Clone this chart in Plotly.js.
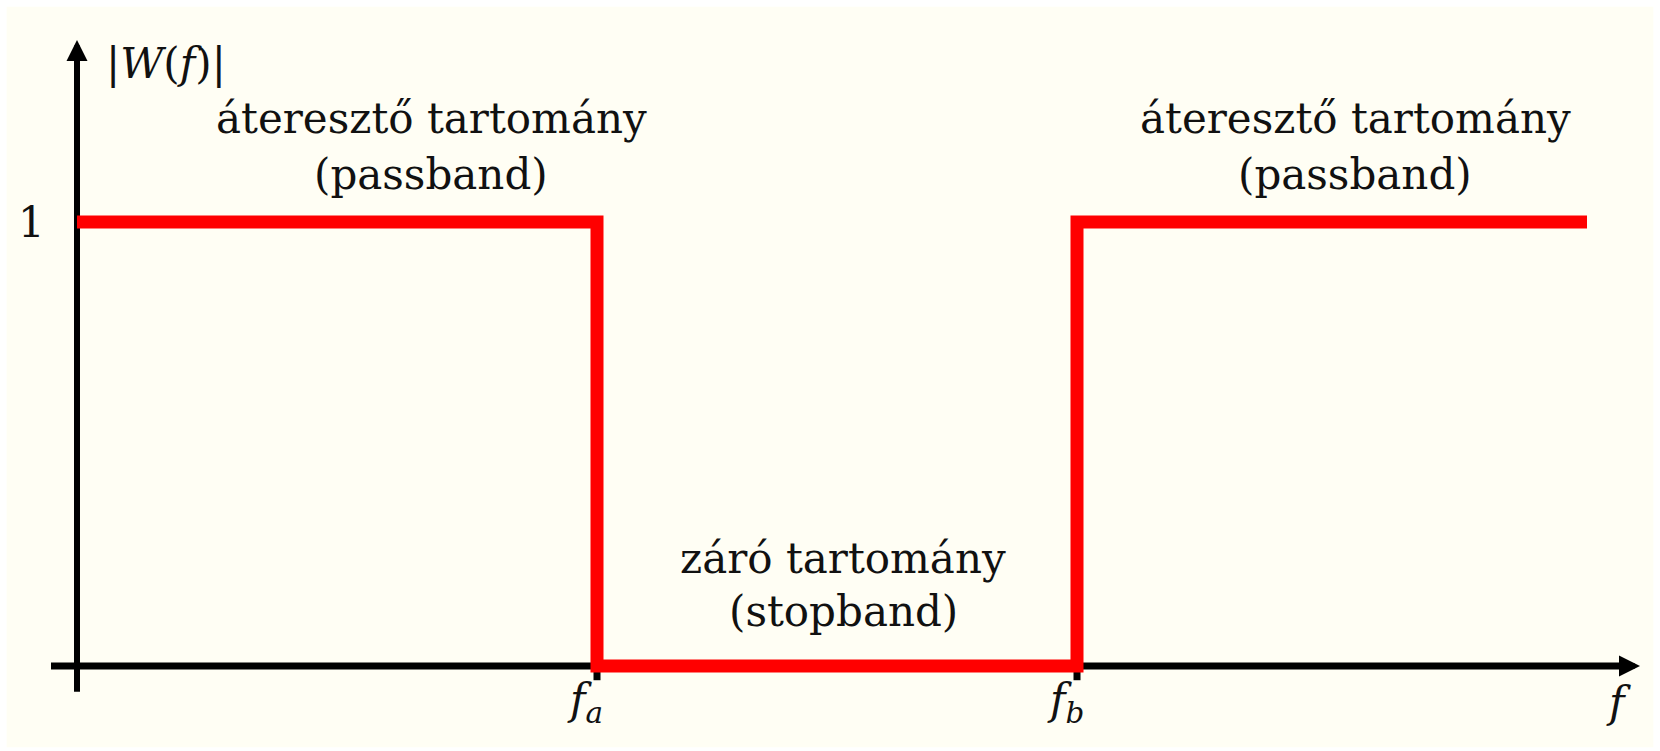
<!DOCTYPE html>
<html>
<head>
<meta charset="utf-8">
<script src="https://cdn.plot.ly/plotly-3.0.1.min.js"></script>
<style>html,body{margin:0;padding:0;background:#fff;}#chart{width:1660px;height:751px;}</style>
</head>
<body>
<div id="chart"></div>
<script>
// ---- data ----
const freq = [0, 5.2, 5.2, 10.0, 10.0, 15.1];
const gain = [1, 1, 0, 0, 1, 1];
const edgeFreqs = [5.2, 10.0];
const edgeLabels = ['<i>f</i><sub><i>a</i></sub>', '<i>f</i><sub><i>b</i></sub>'];
const yTickVals = [1];
const yTickText = ['1'];
const bandLabels = [
  {x: 3.54, line1: 'áteresztő tartomány', line2: '(passband)', y1: 1.232, y2: 1.108},
  {x: 7.66, line1: 'záró tartomány', line2: '(stopband)', y1: 0.243, y2: 0.122},
  {x: 12.78, line1: 'áteresztő tartomány', line2: '(passband)', y1: 1.232, y2: 1.108}
];
const xAxisLabel = '<i>f</i>';
const yAxisLabel = '|<i>W</i>(<i>f</i>)|';

// ---- geometry ----
const X_MIN = -0.77, X_MAX = 15.83;
const Y_MIN = -0.1914, Y_MAX = 1.5;
const AXIS_X_START = -0.26, AXIS_X_END = 15.63;
const AXIS_Y_START = -0.058, AXIS_Y_END = 1.41;
const serif = 'DejaVu Serif, Liberation Serif, serif';
const textColor = '#111111';

const shapes = [
  {type: 'rect', xref: 'paper', yref: 'paper', x0: 0.004, x1: 0.996, y0: 0.005, y1: 0.991,
   fillcolor: '#fffef4', line: {width: 0}, layer: 'below'},
  {type: 'line', xref: 'x', yref: 'y', x0: AXIS_X_START, x1: AXIS_X_END - 0.1, y0: 0, y1: 0,
   line: {color: '#000', width: 7}, layer: 'below'},
  {type: 'line', xref: 'x', yref: 'y', x0: 0, x1: 0, y0: AXIS_Y_START, y1: AXIS_Y_END - 0.02,
   line: {color: '#000', width: 6}, layer: 'below'}
];
edgeFreqs.forEach(f => shapes.push({type: 'line', xref: 'x', yref: 'y', x0: f, x1: f, y0: 0, y1: -0.032,
  line: {color: '#000', width: 7}, layer: 'below'}));

const annotations = [
  // arrowheads
  {x: AXIS_X_END, y: 0, ax: AXIS_X_END - 0.35, ay: 0, xref: 'x', yref: 'y', axref: 'x', ayref: 'y',
   showarrow: true, arrowhead: 2, arrowsize: 0.7, arrowwidth: 6, arrowcolor: '#000', text: ''},
  {x: 0, y: AXIS_Y_END, ax: 0, ay: AXIS_Y_END - 0.08, xref: 'x', yref: 'y', axref: 'x', ayref: 'y',
   showarrow: true, arrowhead: 2, arrowsize: 0.7, arrowwidth: 6, arrowcolor: '#000', text: ''},
  // axis labels
  {x: 0.89, y: 1.358, xref: 'x', yref: 'y', text: yAxisLabel, showarrow: false,
   font: {family: serif, size: 42, color: textColor}, xanchor: 'center', yanchor: 'middle'},
  {x: 15.41, y: -0.083, xref: 'x', yref: 'y', text: xAxisLabel, showarrow: false,
   font: {family: serif, size: 42, color: textColor}, xanchor: 'center', yanchor: 'middle'}
];
yTickVals.forEach((v, i) => annotations.push({x: -0.46, y: v, xref: 'x', yref: 'y', text: yTickText[i],
  showarrow: false, font: {family: serif, size: 42, color: textColor}, xanchor: 'center', yanchor: 'middle'}));
edgeFreqs.forEach((f, i) => annotations.push({x: f - 0.12, y: -0.083, xref: 'x', yref: 'y', text: edgeLabels[i],
  showarrow: false, font: {family: serif, size: 42, color: textColor}, xanchor: 'center', yanchor: 'middle'}));
bandLabels.forEach(b => {
  annotations.push({x: b.x, y: b.y1, xref: 'x', yref: 'y', text: b.line1, showarrow: false,
    font: {family: serif, size: 42, color: textColor}, xanchor: 'center', yanchor: 'middle'});
  annotations.push({x: b.x, y: b.y2, xref: 'x', yref: 'y', text: b.line2, showarrow: false,
    font: {family: serif, size: 42, color: textColor}, xanchor: 'center', yanchor: 'middle'});
});

const data = [{
  x: freq, y: gain, type: 'scatter', mode: 'lines',
  line: {color: '#ff0000', width: 13, shape: 'linear'},
  hoverinfo: 'skip', showlegend: false
}];

const layout = {
  width: 1660, height: 751,
  margin: {l: 0, r: 0, t: 0, b: 0, pad: 0},
  paper_bgcolor: '#ffffff', plot_bgcolor: 'rgba(0,0,0,0)',
  showlegend: false,
  xaxis: {range: [X_MIN, X_MAX], showgrid: false, zeroline: false, showticklabels: false, showline: false, ticks: '', fixedrange: true},
  yaxis: {range: [Y_MIN, Y_MAX], showgrid: false, zeroline: false, showticklabels: false, showline: false, ticks: '', fixedrange: true},
  shapes: shapes,
  annotations: annotations
};

Plotly.newPlot('chart', data, layout, {staticPlot: true, displayModeBar: false});
</script>
</body>
</html>
